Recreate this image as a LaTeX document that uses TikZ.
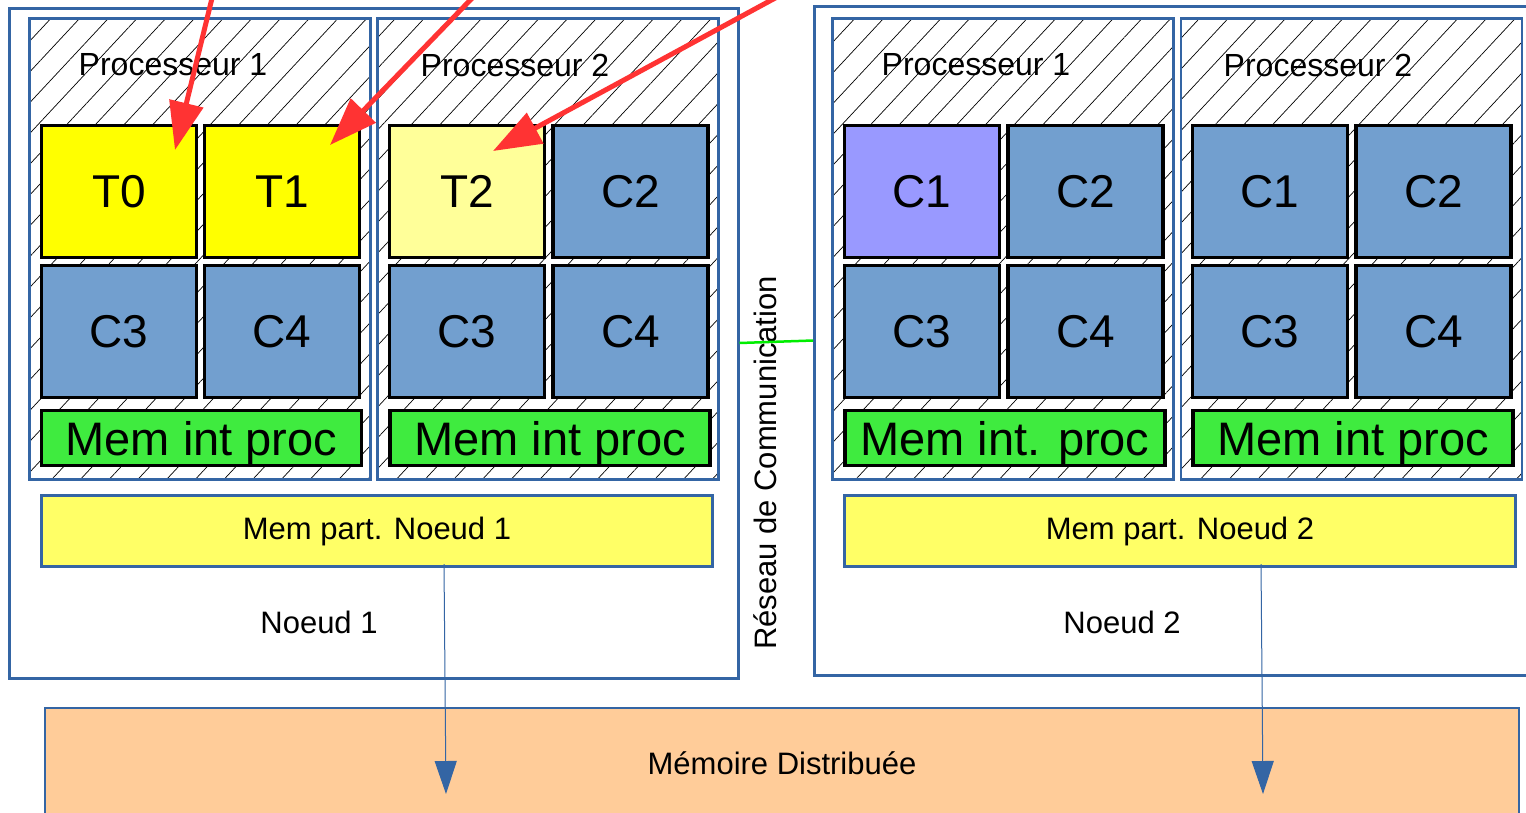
\documentclass[tikz,border=0pt]{standalone}
\usepackage{fontspec}
\setmainfont{Liberation Sans}
\usetikzlibrary{patterns.meta,arrows.meta}
\definecolor{nblue}{HTML}{3465A4}
\definecolor{cblue}{HTML}{729FCF}
\definecolor{tyel}{HTML}{FFFF00}
\definecolor{tyellight}{HTML}{FFFF99}
\definecolor{cviolet}{HTML}{9999FF}
\definecolor{mgreen}{HTML}{3FEB3F}
\definecolor{pyel}{HTML}{FFFF66}
\definecolor{dorange}{HTML}{FFCC99}
\definecolor{rred}{HTML}{FF3333}
\definecolor{lgreen}{HTML}{00EE00}
\tikzset{
  noeudbox/.style={draw=nblue, line width=3pt, inner sep=0pt},
  procbox/.style={draw=nblue, line width=2.5pt, inner sep=0pt,
    pattern={Lines[angle=47,distance=21pt,line width=0.7pt]},
    minimum width=341pt, minimum height=461pt},
  proclabel/.style={font=\fontsize{32}{36}\selectfont, inner sep=0pt},
  cellbox/.style={draw=black, line width=3.5pt, fill=cblue, inner sep=0pt,
    minimum width=155pt, minimum height=132pt, font=\fontsize{46}{50}\selectfont},
  memint/.style={draw=black, line width=3.5pt, fill=mgreen, inner sep=0pt, text depth=0pt,
    minimum width=320pt, minimum height=55pt, font=\fontsize{47}{50}\selectfont},
  mempart/.style={draw=nblue, line width=3pt, fill=pyel, inner sep=0pt,
    minimum width=671pt, minimum height=71pt, font=\fontsize{31}{34}\selectfont},
  plain/.style={font=\fontsize{31}{34}\selectfont, inner sep=0pt},
  redarrow/.style={draw=rred, line width=5pt, -{Triangle[width=34pt,length=48pt]}},
  bluearrow/.style={draw=nblue, line width=1pt, -{Triangle[width=22pt,length=33pt]}},
  greenlink/.style={draw=lgreen, line width=2.5pt}
}
\begin{document}
\begin{tikzpicture}[x=1pt,y=-1pt]
\useasboundingbox (0,0) rectangle (1526,812);
\clip (0,0) rectangle (1526,812);
\fill[white] (0,0) rectangle (1526,812);

% Distributed memory
\node[draw=nblue, line width=1.5pt, fill=dorange, minimum width=1474pt, minimum height=110pt, inner sep=0pt,
  font=\fontsize{31}{34}\selectfont] (md) at (782,763) {Mémoire Distribuée};

% Node boxes
\node[noeudbox, minimum width=729pt, minimum height=670pt] (n1) at (373.5,343) {};
\node[noeudbox, minimum width=719pt, minimum height=669pt] (n2) at (1174,340.5) {};

% Processors
\node[procbox] (p11) at (200,249) {};
\node[procbox] (p12) at (548,249) {};
\node[procbox] (p21) at (1003,249) {};
\node[procbox] (p22) at (1351.5,249) {};
\node[proclabel] (l11) at (173,65) {Processeur 1};
\node[proclabel] (l12) at (515,65) {Processeur 2};
\node[proclabel] (l21) at (976,65) {Processeur 1};
\node[proclabel] (l22) at (1318,65) {Processeur 2};

% Cells node 1
\node[cellbox, fill=tyel] (t0) at (119,191.5) {T0};
\node[cellbox, fill=tyel] (t1) at (282,191.5) {T1};
\node[cellbox] (a13) at (119,331.5) {C3};
\node[cellbox] (a14) at (282,331.5) {C4};
\node[cellbox, fill=tyellight] (t2) at (467,191.5) {T2};
\node[cellbox] (b12) at (630.5,191.5) {C2};
\node[cellbox] (b13) at (467,331.5) {C3};
\node[cellbox] (b14) at (630.5,331.5) {C4};
% Cells node 2
\node[cellbox, fill=cviolet] (c21) at (922,191.5) {C1};
\node[cellbox] (c22) at (1085.5,191.5) {C2};
\node[cellbox] (c23) at (922,331.5) {C3};
\node[cellbox] (c24) at (1085.5,331.5) {C4};
\node[cellbox] (d21) at (1270,191.5) {C1};
\node[cellbox] (d22) at (1433.5,191.5) {C2};
\node[cellbox] (d23) at (1270,331.5) {C3};
\node[cellbox] (d24) at (1433.5,331.5) {C4};

% Internal memories
\node[memint] (mi11) at (201.5,438) {Mem int proc};
\node[memint] (mi12) at (550,438) {Mem int proc};
\node[memint] (mi21) at (1005,438) {Mem int. proc};
\node[memint] (mi22) at (1353,438) {Mem int proc};

% Shared memories
\node[mempart] (mp1) at (377,531) {Mem part. Noeud 1};
\node[mempart] (mp2) at (1180,531) {Mem part. Noeud 2};

% Node labels
\node[plain] (ln1) at (319,622) {Noeud 1};
\node[plain] (ln2) at (1122,622) {Noeud 2};

% Network
\node[plain, rotate=90] (res) at (765,463) {Réseau de Communication};
\draw[greenlink] (n1.east) -- (n2.west);

% Blue arrows to distributed memory
\coordinate (x1) at (444,0);
\coordinate (x2) at (1261,0);
\coordinate (tip1) at (446,794);
\coordinate (tip2) at (1263,794);
\draw[bluearrow] ([yshift=4pt]mp1.south -| x1) -- (tip1);
\draw[bluearrow] ([yshift=4pt]mp2.south -| x2) -- (tip2);

% Red arrows
\coordinate (r1s) at (214,-10);
\coordinate (r1e) at (175,150);
\coordinate (r2s) at (480,-10);
\coordinate (r2e) at (330,145);
\coordinate (r3s) at (790,-10);
\coordinate (r3e) at (493,151);
\draw[redarrow] (r1s) -- (r1e);
\draw[redarrow] (r2s) -- (r2e);
\draw[redarrow] (r3s) -- (r3e);
\end{tikzpicture}
\end{document}
